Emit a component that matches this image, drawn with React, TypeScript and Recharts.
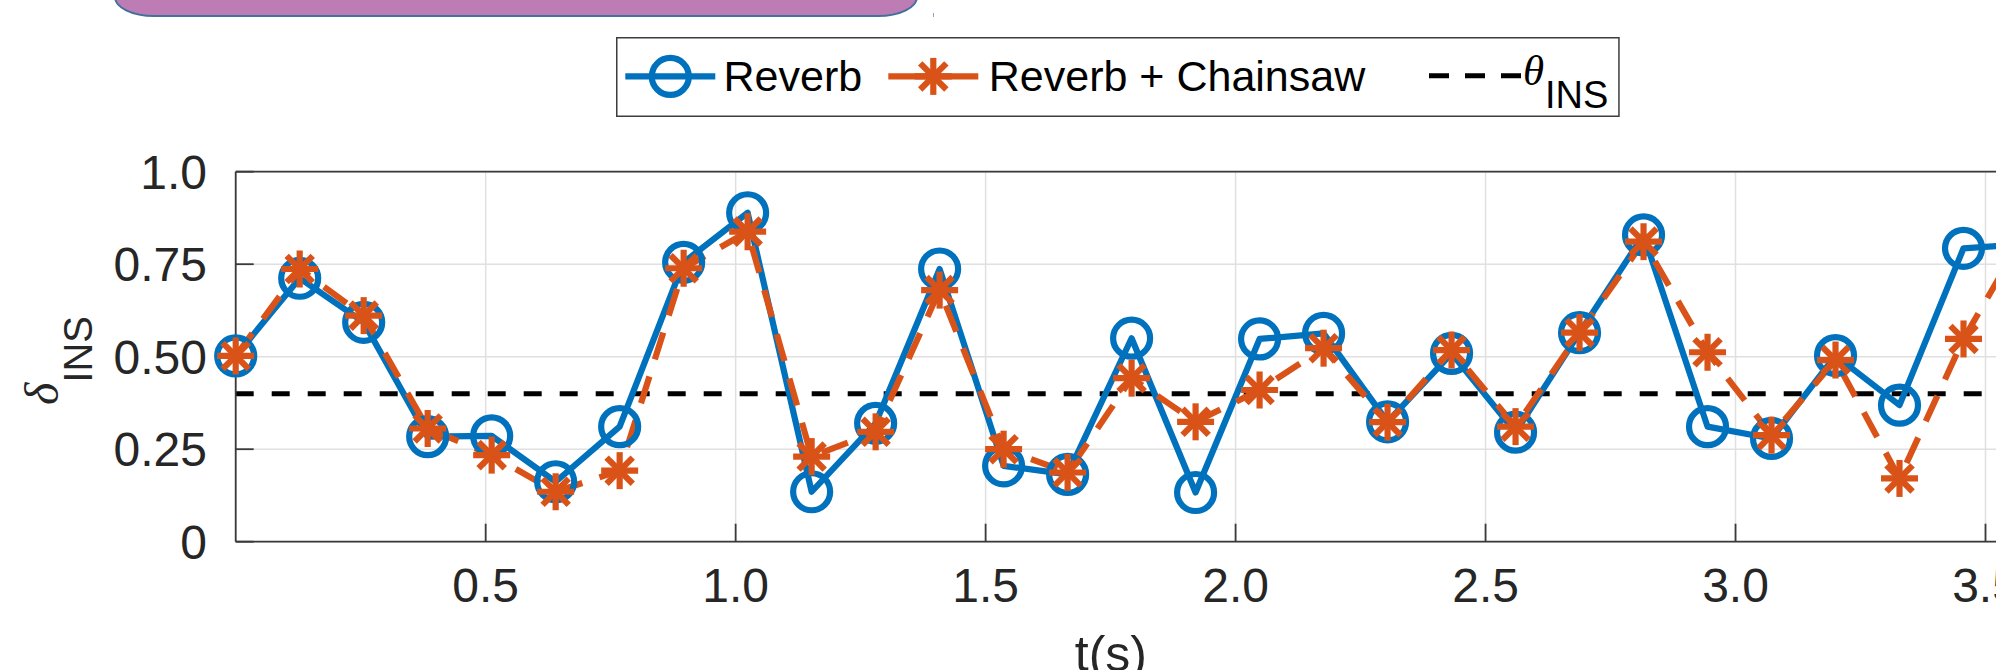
import React from 'react';
import { LineChart, Line, XAxis, YAxis, CartesianGrid, ReferenceLine, Legend } from 'recharts';

// ---------- data ----------
const TIMES = [0, 0.128, 0.256, 0.384, 0.512, 0.64, 0.768, 0.896, 1.024, 1.152, 1.28, 1.408, 1.536, 1.664, 1.792, 1.92, 2.048, 2.176, 2.304, 2.432, 2.56, 2.688, 2.816, 2.944, 3.072, 3.2, 3.328, 3.456, 3.584];
const REVERB = [0.502, 0.712, 0.593, 0.284, 0.286, 0.162, 0.311, 0.755, 0.889, 0.135, 0.32, 0.737, 0.205, 0.182, 0.55, 0.133, 0.548, 0.563, 0.324, 0.509, 0.296, 0.565, 0.829, 0.311, 0.279, 0.503, 0.369, 0.793, 0.805];
const REVERB_CHAINSAW = [0.502, 0.737, 0.611, 0.306, 0.234, 0.135, 0.192, 0.739, 0.838, 0.23, 0.297, 0.68, 0.25, 0.187, 0.442, 0.324, 0.41, 0.523, 0.323, 0.518, 0.311, 0.565, 0.811, 0.512, 0.288, 0.491, 0.171, 0.548, 0.845];
const SERIES_NAMES = ['Reverb', 'Reverb + Chainsaw'];
const THRESHOLD = 0.4;
const X_MAX = 3.531;
const X_TICKS = [0.5, 1, 1.5, 2, 2.5, 3, 3.5];
const X_TICK_LABELS = ['0.5', '1.0', '1.5', '2.0', '2.5', '3.0', '3.5'];
const Y_TICKS = [0, 0.25, 0.5, 0.75, 1];
const Y_TICK_LABELS = ['0', '0.25', '0.50', '0.75', '1.0'];

const data = TIMES.map((t, i) => ({ t, reverb: REVERB[i], chainsaw: REVERB_CHAINSAW[i] }));
const markerData = data.filter((d) => d.t <= X_MAX);

// ---------- style ----------
const BLUE = '#0072BD';
const ORANGE = '#D95319';
const AXIS = '#3a3a3a';
const GRID = '#e0e0e0';
const TEXT = '#262626';
const SANS = '"Liberation Sans", Arial, Helvetica, sans-serif';
const SERIF = '"Liberation Serif", "Times New Roman", serif';

const CHART_W = 2100;
const CHART_H = 670;

function AsteriskShape({ cx, cy, color, arm = 18.5, sw = 6.2 }: any) {
  const d = arm * Math.SQRT1_2;
  return (
    <g stroke={color} strokeWidth={sw} strokeLinecap="butt" fill="none">
      <line x1={cx - arm} y1={cy} x2={cx + arm} y2={cy} />
      <line x1={cx} y1={cy - arm} x2={cx} y2={cy + arm} />
      <line x1={cx - d} y1={cy - d} x2={cx + d} y2={cy + d} />
      <line x1={cx - d} y1={cy + d} x2={cx + d} y2={cy - d} />
    </g>
  );
}

function circleMarker(props: any) {
  const { cx, cy, index } = props;
  if (cx == null || cy == null) return <g key={`c-${index}`} />;
  return <circle key={`c-${index}`} cx={cx} cy={cy} r={18.5} fill="none" stroke={BLUE} strokeWidth={6.2} />;
}

function starMarker(props: any) {
  const { cx, cy, index } = props;
  if (cx == null || cy == null) return <g key={`s-${index}`} />;
  return (
    <g key={`s-${index}`}>
      <AsteriskShape cx={cx} cy={cy} color={ORANGE} />
    </g>
  );
}

function LegendBox() {
  const w = 1003.7;
  const h = 80;
  const cy = 39.4;
  const base = 54.4;
  return (
    <svg width={w} height={h} style={{ display: 'block', overflow: 'visible' }}>
      <rect x={0.75} y={0.75} width={w - 1.5} height={h - 1.5} fill="#fff" stroke="#3c3c3c" strokeWidth={1.5} />
      <line x1={9.3} y1={cy} x2={99.3} y2={cy} stroke={BLUE} strokeWidth={6.2} />
      <circle cx={54.3} cy={cy} r={18.5} fill="none" stroke={BLUE} strokeWidth={6.2} />
      <text x={107.5} y={base} fontSize={43} fontFamily={SANS} fill="#000">{SERIES_NAMES[0]}</text>
      <line x1={272.3} y1={cy} x2={362.3} y2={cy} stroke={ORANGE} strokeWidth={6.2} />
      <AsteriskShape cx={317.3} cy={cy} color={ORANGE} />
      <text x={372.8} y={base} fontSize={43} fontFamily={SANS} fill="#000">{SERIES_NAMES[1]}</text>
      <line x1={813} y1={38.7} x2={905} y2={38.7} stroke="#000" strokeWidth={5} strokeDasharray="20 16" />
      <text x={907} y={47.7} fontSize={43} fontFamily={SERIF} fontStyle="italic" fill="#000">θ</text>
      <text x={929} y={70.5} fontSize={38} fontFamily={SANS} fill="#000">INS</text>
    </svg>
  );
}

function YLabel(props: any) {
  const vb = props.viewBox || { x: 115.7, y: 171.7, width: 120, height: 370 };
  const x = vb.x - 57.7;
  const y = vb.y + vb.height / 2 + 48.3;
  return (
    <text transform={`rotate(-90 ${x} ${y})`} x={x} y={y} fill={TEXT}>
      <tspan fontFamily={SERIF} fontStyle="italic" fontSize={48}>δ</tspan>
      <tspan fontFamily={SANS} fontSize={40} dy={33.5}>INS</tspan>
    </text>
  );
}

function XLabel(props: any) {
  const vb = props.viewBox || { x: 235.7, y: 541.7, width: 1765.3, height: 60 };
  const x = vb.x + vb.width / 2 - 7.5;
  const y = vb.y + 129.3;
  return (
    <text x={x} y={y} textAnchor="middle" fontSize={50} fontFamily={SANS} fill={TEXT}>t(s)</text>
  );
}

const fmtX = (v: number) => X_TICK_LABELS[X_TICKS.indexOf(v)] ?? String(v);
const fmtY = (v: number) => Y_TICK_LABELS[Y_TICKS.indexOf(v)] ?? String(v);

const tickStyle = { fill: TEXT, fontSize: 48, fontFamily: SANS };
const lineStyle = { stroke: AXIS, strokeWidth: 1.8 };

export default function App() {
  return (
    <div style={{ position: 'fixed', left: 0, top: 0, width: 1996, height: 670, overflow: 'hidden', background: '#fff' }}>
      <LineChart
        width={CHART_W}
        height={CHART_H}
        data={data}
        margin={{ top: 170.7, right: 98, bottom: 68.3, left: 115.7 }}
      >
        <CartesianGrid stroke={GRID} strokeWidth={1.5} />
        <XAxis
          dataKey="t"
          type="number"
          domain={[0, X_MAX]}
          allowDataOverflow
          ticks={X_TICKS}
          interval={0}
          tickFormatter={fmtX}
          height={60}
          tickSize={-18}
          tickMargin={44.3}
          axisLine={lineStyle}
          tickLine={lineStyle}
          tick={tickStyle}
          label={(p: any) => <XLabel {...p} />}
        />
        <XAxis
          xAxisId="top"
          orientation="top"
          dataKey="t"
          type="number"
          domain={[0, X_MAX]}
          allowDataOverflow
          ticks={X_TICKS}
          interval={0}
          height={1}
          tickSize={-18}
          axisLine={lineStyle}
          tickLine={lineStyle}
          tick={false}
        />
        <XAxis xAxisId="m" dataKey="t" type="number" domain={[0, X_MAX]} hide />
        <YAxis
          type="number"
          domain={[0, 1]}
          allowDataOverflow
          ticks={Y_TICKS}
          interval={0}
          tickFormatter={fmtY}
          width={120}
          tickSize={-18}
          tickMargin={46.7}
          axisLine={lineStyle}
          tickLine={lineStyle}
          tick={tickStyle}
          label={(p: any) => <YLabel {...p} />}
        />
        <YAxis
          yAxisId="right"
          orientation="right"
          type="number"
          domain={[0, 1]}
          allowDataOverflow
          ticks={Y_TICKS}
          interval={0}
          width={1}
          tickSize={-18}
          axisLine={lineStyle}
          tickLine={lineStyle}
          tick={false}
        />
        <ReferenceLine y={THRESHOLD} stroke="#000" strokeWidth={5} strokeDasharray="18 18" />
        <Line
          type="linear"
          dataKey="reverb"
          name={SERIES_NAMES[0]}
          stroke={BLUE}
          strokeWidth={6.2}
          strokeLinejoin="round"
          dot={false}
          activeDot={false}
          isAnimationActive={false}
        />
        <Line
          xAxisId="m"
          data={markerData}
          type="linear"
          dataKey="reverb"
          stroke="none"
          dot={circleMarker}
          activeDot={false}
          legendType="none"
          isAnimationActive={false}
        />
        <Line
          type="linear"
          dataKey="chainsaw"
          name={SERIES_NAMES[1]}
          stroke={ORANGE}
          strokeWidth={6.2}
          strokeDasharray="28 18"
          strokeLinejoin="round"
          dot={false}
          activeDot={false}
          isAnimationActive={false}
        />
        <Line
          xAxisId="m"
          data={markerData}
          type="linear"
          dataKey="chainsaw"
          stroke="none"
          dot={starMarker}
          activeDot={false}
          legendType="none"
          isAnimationActive={false}
        />
        <Legend
          layout="horizontal"
          verticalAlign="middle"
          align="center"
          wrapperStyle={{ position: 'absolute', left: 615.7, top: 37.3, width: 1003.7, height: 80 }}
          content={() => <LegendBox />}
        />
      </LineChart>
      <div
        style={{
          position: 'absolute',
          left: 114,
          top: -60,
          width: 804,
          height: 77,
          boxSizing: 'border-box',
          background: '#BE7CB5',
          border: '2px solid #41719C',
          borderRadius: '0 0 40px 40px / 0 0 20px 20px',
        }}
      />
      <div style={{ position: 'absolute', left: 933, top: 13, width: 1, height: 4, background: '#8aa0c0' }} />
    </div>
  );
}
